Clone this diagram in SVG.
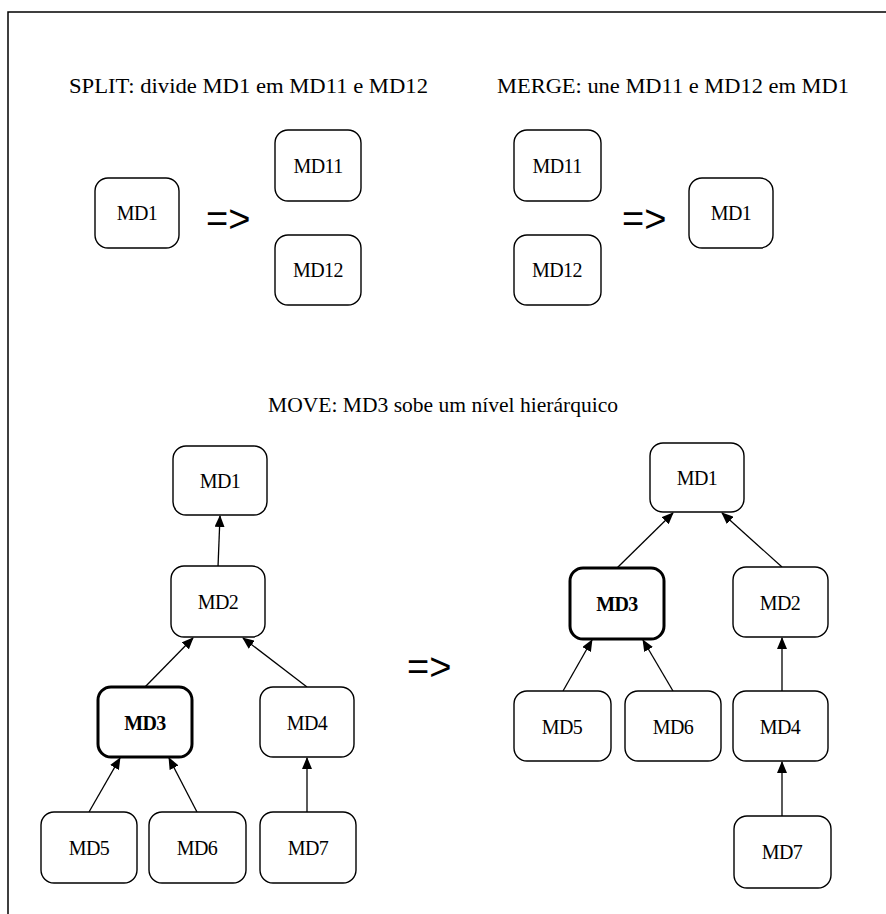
<svg xmlns="http://www.w3.org/2000/svg" width="886" height="914" viewBox="0 0 886 914">
<style>
.box{fill:#fff;stroke:#000;stroke-width:1.4}
.bold{stroke-width:3}
.lbl{font-family:"Liberation Serif","Times New Roman",serif;font-size:20px;text-anchor:middle;fill:#000;letter-spacing:-0.6px}
.b{font-weight:bold}
.title{font-family:"Liberation Serif","Times New Roman",serif;font-size:22px;fill:#000}
.arrow{font-family:"Liberation Sans",Arial,sans-serif;font-size:38px;fill:#000}
.edge{stroke:#000;stroke-width:1.3;fill:none;marker-end:url(#ah)}
</style>
<defs>
<marker id="ah" markerWidth="12" markerHeight="10" refX="11" refY="5" orient="auto" markerUnits="userSpaceOnUse">
<path d="M0,0 L12,5 L0,10 Z" fill="#000"/>
</marker>
</defs>
<rect width="886" height="914" fill="#fff"/>
<path d="M8,914 V12 H886" fill="none" stroke="#000" stroke-width="1.5"/>
<text class="title" x="69" y="93" textLength="359" lengthAdjust="spacingAndGlyphs">SPLIT: divide MD1 em MD11 e MD12</text>
<text class="title" x="497" y="93" textLength="352" lengthAdjust="spacingAndGlyphs">MERGE: une MD11 e MD12 em MD1</text>
<text class="title" x="268" y="412" textLength="350" lengthAdjust="spacingAndGlyphs">MOVE: MD3 sobe um nível hierárquico</text>
<text class="arrow" x="206" y="232">=&gt;</text>
<text class="arrow" x="622" y="232">=&gt;</text>
<text class="arrow" x="407" y="680">=&gt;</text>
<g id="connectors">
<line class="edge" x1="218" y1="567" x2="220" y2="516"/>
<line class="edge" x1="145" y1="687" x2="193" y2="638"/>
<line class="edge" x1="307" y1="687" x2="243" y2="638"/>
<line class="edge" x1="89" y1="812" x2="120" y2="758"/>
<line class="edge" x1="197" y1="812" x2="169" y2="758"/>
<line class="edge" x1="307" y1="812" x2="307" y2="758"/>
<line class="edge" x1="617" y1="568" x2="673" y2="513"/>
<line class="edge" x1="782" y1="567" x2="722" y2="513"/>
<line class="edge" x1="563" y1="691" x2="592" y2="640"/>
<line class="edge" x1="673" y1="691" x2="643" y2="640"/>
<line class="edge" x1="782" y1="691" x2="782" y2="638"/>
<line class="edge" x1="782" y1="816" x2="782" y2="762"/>
</g>
<g id="split-md1"><rect class="box" x="95" y="178" width="84" height="70" rx="13"/><text class="lbl" x="137" y="220">MD1</text></g>
<g id="split-md11"><rect class="box" x="275" y="130" width="86" height="71" rx="13"/><text class="lbl" x="318" y="173">MD11</text></g>
<g id="split-md12"><rect class="box" x="275" y="235" width="86" height="70" rx="13"/><text class="lbl" x="318" y="277">MD12</text></g>
<g id="merge-md11"><rect class="box" x="514" y="130" width="87" height="71" rx="13"/><text class="lbl" x="557" y="173">MD11</text></g>
<g id="merge-md12"><rect class="box" x="514" y="235" width="87" height="70" rx="13"/><text class="lbl" x="557" y="277">MD12</text></g>
<g id="merge-md1"><rect class="box" x="689" y="178" width="84" height="70" rx="13"/><text class="lbl" x="731" y="220">MD1</text></g>
<g id="l-md1"><rect class="box" x="173" y="446" width="94" height="69" rx="13"/><text class="lbl" x="220" y="488">MD1</text></g>
<g id="l-md2"><rect class="box" x="171" y="566" width="94" height="71" rx="13"/><text class="lbl" x="218" y="609">MD2</text></g>
<g id="l-md3"><rect class="box bold" x="98" y="687" width="94" height="70" rx="13"/><text class="lbl b" x="145" y="730">MD3</text></g>
<g id="l-md4"><rect class="box" x="260" y="687" width="94" height="70" rx="13"/><text class="lbl" x="307" y="730">MD4</text></g>
<g id="l-md5"><rect class="box" x="41" y="812" width="96" height="71" rx="13"/><text class="lbl" x="89" y="855">MD5</text></g>
<g id="l-md6"><rect class="box" x="149" y="812" width="97" height="71" rx="13"/><text class="lbl" x="197" y="855">MD6</text></g>
<g id="l-md7"><rect class="box" x="260" y="812" width="96" height="71" rx="13"/><text class="lbl" x="308" y="855">MD7</text></g>
<g id="r-md1"><rect class="box" x="650" y="443" width="94" height="69" rx="13"/><text class="lbl" x="697" y="485">MD1</text></g>
<g id="r-md3"><rect class="box bold" x="570" y="568" width="94" height="71" rx="13"/><text class="lbl b" x="617" y="611">MD3</text></g>
<g id="r-md2"><rect class="box" x="733" y="567" width="95" height="70" rx="13"/><text class="lbl" x="780" y="610">MD2</text></g>
<g id="r-md5"><rect class="box" x="514" y="691" width="97" height="70" rx="13"/><text class="lbl" x="562" y="734">MD5</text></g>
<g id="r-md6"><rect class="box" x="625" y="691" width="96" height="70" rx="13"/><text class="lbl" x="673" y="734">MD6</text></g>
<g id="r-md4"><rect class="box" x="733" y="691" width="95" height="70" rx="13"/><text class="lbl" x="780" y="734">MD4</text></g>
<g id="r-md7"><rect class="box" x="734" y="816" width="97" height="72" rx="13"/><text class="lbl" x="782" y="859">MD7</text></g>
</svg>
